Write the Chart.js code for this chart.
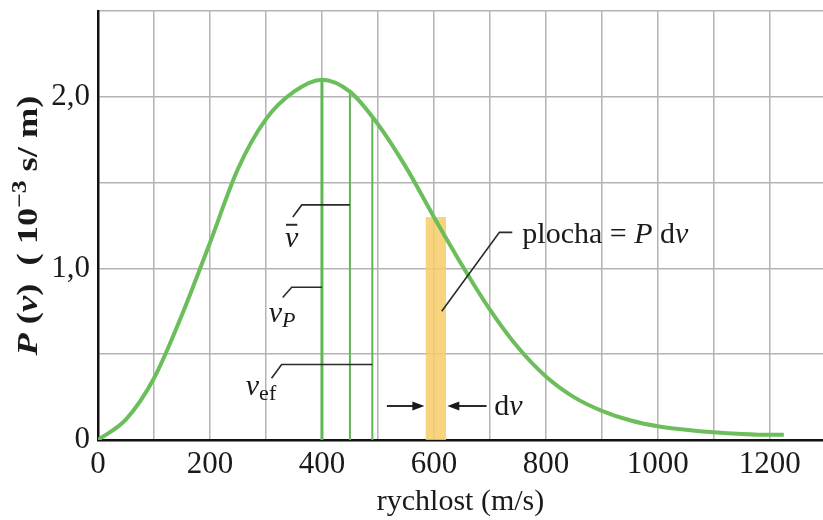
<!DOCTYPE html>
<html lang="cs">
<head>
<meta charset="UTF-8">
<meta name="viewport" content="width=device-width, initial-scale=1.0">
<title>Rozdělení rychlostí</title>
<script src="https://cdn.jsdelivr.net/npm/chart.js"></script>
<style>
  html, body { margin: 0; padding: 0; background: #fff; }
  #wrap { position: relative; width: 823px; height: 520px; }
</style>
</head>
<body>

<div id="wrap"><canvas id="maxwell"></canvas></div>

<script>
  // rychlost (m/s) a P(v) v jednotkách 10^-3 s/m
  const speeds  = [0, 50, 100, 150, 200, 250, 300, 350, 400, 450, 500, 550, 600, 650, 700, 750, 800, 850, 900, 950, 1000, 1050, 1100, 1150, 1200, 1225];
  const pValues = [0, 0.12, 0.36, 0.73, 1.15, 1.58, 1.87, 2.03, 2.10, 2.03, 1.84, 1.59, 1.30, 1.02, 0.76, 0.54, 0.37, 0.25, 0.17, 0.115, 0.08, 0.06, 0.045, 0.035, 0.03, 0.03];

  // vP, střední rychlost, efektivní rychlost (svislé čáry až ke křivce)
  const markerSpeeds = [400, 450, 490];
  const markerTops   = [2.10, 2.03, 1.88];

  // proužek dv
  const bandEdges  = [585, 622];
  const bandHeight = 1.30;

  const xTicks = [0, 100, 200, 300, 400, 500, 600, 700, 800, 900, 1000, 1100, 1200];

  const serif = '"Liberation Serif", "DejaVu Serif", serif';
  const green = 'rgb(108, 190, 92)';

  const markerSets = markerSpeeds.map((s, i) => ({
    data: [{ x: s, y: 0 }, { x: s, y: markerTops[i] }],
    borderColor: 'rgb(96, 182, 84)',
    borderWidth: i === 0 ? 3 : 2,
    pointRadius: 0,
    order: 1
  }));

  // odkazové čáry a popisky (v datových souřadnicích)
  const leaders = [
    [[348, 1.30], [364, 1.37], [450, 1.37]],
    [[330, 0.83], [346, 0.89], [400, 0.89]],
    [[310, 0.36], [328, 0.44], [490, 0.44]],
    [[614, 0.75], [717, 1.21], [740, 1.21]]
  ];

  const labels = [
    { at: [334, 1.126], runs: [{ t: 'v', f: 'italic 30px ' + serif }], bar: true },
    { at: [305, 0.69], runs: [{ t: 'v', f: 'italic 30px ' + serif }, { t: 'P', f: 'italic 22px ' + serif, dy: 5 }] },
    { at: [264, 0.263], runs: [{ t: 'v', f: 'italic 30px ' + serif }, { t: 'ef', f: '22px ' + serif, dy: 5 }] },
    { at: [758, 1.149], runs: [{ t: 'plocha = ', f: '30px ' + serif }, { t: 'P', f: 'italic 30px ' + serif }, { t: ' d', f: '30px ' + serif }, { t: 'v', f: 'italic 30px ' + serif }] },
    { at: [708, 0.146], runs: [{ t: 'd', f: '30px ' + serif }, { t: 'v', f: 'italic 30px ' + serif }] }
  ];

  const arrows = [
    { from: [516, 0.198], to: [583, 0.198] },
    { from: [694, 0.198], to: [624, 0.198] }
  ];

  // popis osy y: P(v) (10^-3 s/ m), svisle
  const yTitleRuns = [
    { t: 'P', f: 'italic bold 30px ' + serif },
    { t: ' (', f: 'bold 30px ' + serif },
    { t: 'v', f: 'italic bold 30px ' + serif },
    { t: ')  ( 10', f: 'bold 30px ' + serif },
    { t: '−3', f: 'bold 21px ' + serif, dy: -11 },
    { t: ' s/ m)', f: 'bold 30px ' + serif }
  ];
  const yTitleLength = 260;

  function drawRuns(ctx, runs, x, y) {
    runs.forEach(r => {
      ctx.font = r.f;
      ctx.fillText(r.t, x, y + (r.dy || 0));
      x += ctx.measureText(r.t).width;
    });
    return x;
  }

  const annotate = {
    id: 'annotate',
    afterDatasetsDraw(chart) {
      const { ctx, scales: { x, y } } = chart;
      const px = p => [x.getPixelForValue(p[0]), y.getPixelForValue(p[1])];
      ctx.save();
      ctx.strokeStyle = '#2a2a2a';
      ctx.fillStyle = '#1a1a1a';
      ctx.lineWidth = 1.6;

      leaders.forEach(path => {
        ctx.beginPath();
        path.forEach((p, i) => {
          const [a, b] = px(p);
          i ? ctx.lineTo(a, b) : ctx.moveTo(a, b);
        });
        ctx.stroke();
      });

      arrows.forEach(ar => {
        const [x0, y0] = px(ar.from);
        const [x1, y1] = px(ar.to);
        const dir = Math.sign(x1 - x0);
        ctx.lineWidth = 2;
        ctx.beginPath();
        ctx.moveTo(x0, y0);
        ctx.lineTo(x1 - dir * 6, y1);
        ctx.stroke();
        ctx.beginPath();
        ctx.moveTo(x1, y1);
        ctx.lineTo(x1 - dir * 12, y1 - 4.5);
        ctx.lineTo(x1 - dir * 12, y1 + 4.5);
        ctx.closePath();
        ctx.fill();
      });

      ctx.textBaseline = 'alphabetic';
      labels.forEach(lb => {
        const [cx, cy] = px(lb.at);
        const endX = drawRuns(ctx, lb.runs, cx, cy);
        if (lb.bar) {
          ctx.lineWidth = 2;
          ctx.beginPath();
          ctx.moveTo(cx + 1, cy - 22);
          ctx.lineTo(endX - 1, cy - 22);
          ctx.stroke();
        }
      });

      // svislý popis osy y
      let total = 0;
      yTitleRuns.forEach(r => { ctx.font = r.f; total += ctx.measureText(r.t).width; });
      const midY = (chart.chartArea.top + chart.chartArea.bottom) / 2;
      ctx.translate(37, midY);
      ctx.rotate(-Math.PI / 2);
      ctx.scale(yTitleLength / total, 1);
      drawRuns(ctx, yTitleRuns, -total / 2, 0);
      ctx.restore();
    }
  };

  new Chart(document.getElementById('maxwell'), {
    type: 'line',
    data: {
      datasets: [
        {
          data: speeds.map((v, i) => ({ x: v, y: pValues[i] })),
          borderColor: green,
          borderWidth: 4,
          pointRadius: 0,
          cubicInterpolationMode: 'monotone',
          order: 0
        },
        ...markerSets,
        {
          data: [
            { x: bandEdges[0], y: 0 }, { x: bandEdges[0], y: bandHeight },
            { x: bandEdges[1], y: bandHeight }, { x: bandEdges[1], y: 0 }
          ],
          borderWidth: 0,
          pointRadius: 0,
          fill: 'origin',
          backgroundColor: 'rgba(248, 204, 104, 0.85)',
          order: 2
        }
      ]
    },
    options: {
      responsive: true,
      maintainAspectRatio: false,
      animation: false,
      layout: { padding: { top: 11, right: 0, left: 0, bottom: 0 } },
      plugins: { legend: { display: false }, tooltip: { enabled: false } },
      scales: {
        x: {
          type: 'linear',
          min: 0,
          max: 1295,
          afterBuildTicks: s => { s.ticks = xTicks.map(v => ({ value: v })); },
          afterFit: s => { s.height = 80; s.paddingRight = 0; },
          ticks: {
            autoSkip: false,
            maxRotation: 0,
            padding: 6,
            color: '#1a1a1a',
            font: { family: serif, size: 31 },
            callback: v => (v % 200 === 0 ? String(v) : '')
          },
          grid: { color: '#b4b4b4', lineWidth: 1.5, drawTicks: false },
          border: { color: '#111', width: 2.5 },
          title: {
            display: true,
            text: 'rychlost (m/s)',
            color: '#1a1a1a',
            font: { family: serif, size: 30 },
            padding: { top: 0, bottom: 0 }
          }
        },
        y: {
          min: 0,
          max: 2.5,
          afterFit: s => { s.width = 98; s.paddingTop = 0; },
          ticks: {
            stepSize: 0.5,
            padding: 8,
            color: '#1a1a1a',
            font: { family: serif, size: 31 },
            callback: v => (v === 0 ? '0' : (v % 1 === 0 ? v.toFixed(1).replace('.', ',') : ''))
          },
          grid: { color: '#b4b4b4', lineWidth: 1.5, drawTicks: false },
          border: { color: '#111', width: 2.5 }
        }
      }
    },
    plugins: [annotate]
  });
</script>

</body>
</html>
